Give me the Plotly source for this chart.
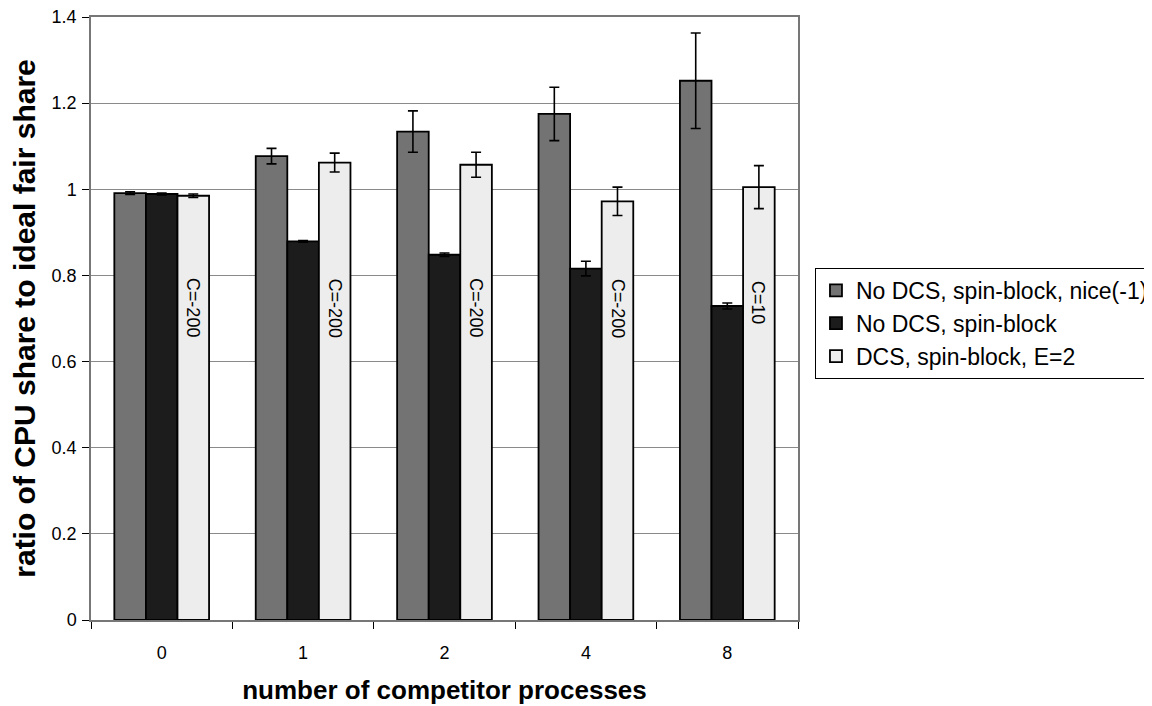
import plotly.graph_objects as go

categories = ["0", "1", "2", "4", "8"]

series_names = ["No DCS, spin-block, nice(-1)", "No DCS, spin-block", "DCS, spin-block, E=2"]

nice_vals = [0.991, 1.077, 1.134, 1.175, 1.252]
nice_err = [0.003, 0.018, 0.048, 0.062, 0.111]

nodcs_vals = [0.989, 0.879, 0.848, 0.816, 0.729]
nodcs_err = [0.002, 0.002, 0.004, 0.017, 0.007]

dcs_vals = [0.985, 1.062, 1.057, 0.972, 1.005]
dcs_err = [0.004, 0.022, 0.029, 0.033, 0.050]

dcs_labels = ["C=-200", "C=-200", "C=-200", "C=-200", "C=10"]
label_centers = [0.724, 0.724, 0.724, 0.724, 0.737]

colors = ["#737373", "#1c1c1c", "#ededed"]
values = [nice_vals, nodcs_vals, dcs_vals]
errors = [nice_err, nodcs_err, dcs_err]

FONT = "Liberation Sans, Arial, sans-serif"

fig = go.Figure()
for name, vals, errs, col in zip(series_names, values, errors, colors):
    fig.add_trace(go.Bar(
        x=categories, y=vals, name=name,
        marker=dict(color=col, line=dict(color="black", width=1.8)),
        error_y=dict(type="data", array=errs, visible=True, color="black",
                     thickness=1.6, width=5),
    ))

for idx, (lab, yc) in enumerate(zip(dcs_labels, label_centers)):
    fig.add_annotation(x=idx, y=yc, xref="x", yref="y", text=lab, showarrow=False,
                       textangle=90, xshift=31.6, xanchor="center", yanchor="middle",
                       font=dict(family=FONT, size=18, color="black"))

fig.update_layout(
    width=1152, height=706,
    paper_bgcolor="white", plot_bgcolor="white",
    margin=dict(l=83, r=362, t=9, b=94, autoexpand=False),
    barmode="group", bargap=0.33, bargroupgap=0,
    font=dict(family=FONT, size=18, color="black"),
    showlegend=True,
    legend=dict(x=1.024, y=0.584, xanchor="left", yanchor="top",
                bordercolor="black", borderwidth=1, bgcolor="white",
                font=dict(family=FONT, size=23), tracegroupgap=0, itemwidth=30),
)

fig.update_xaxes(
    type="category", tickson="boundaries", ticks="outside", ticklen=7,
    tickcolor="black", showline=True, linecolor="#777777", linewidth=1.5,
    mirror=True, showgrid=False, automargin=False,
    tickfont=dict(size=18), ticklabelstandoff=16,
    title=dict(text="<b>number of competitor processes</b>", font=dict(size=26), standoff=18),
)
fig.update_yaxes(
    range=[0, 1.4], tickvals=[0, 0.2, 0.4, 0.6, 0.8, 1, 1.2, 1.4],
    ticktext=["0", "0.2", "0.4", "0.6", "0.8", "1", "1.2", "1.4"],
    ticks="outside", ticklen=7, tickcolor="black", ticklabeloverflow="allow",
    showline=True, linecolor="#777777", linewidth=1.5, mirror=True,
    showgrid=True, gridcolor="#8a8a8a", gridwidth=1, zeroline=False, automargin=False,
    tickfont=dict(size=18), ticklabelstandoff=2,
    title=dict(text="<b>ratio of CPU share to ideal fair share</b>", font=dict(size=30), standoff=12),
)

fig.write_html("out.html")
